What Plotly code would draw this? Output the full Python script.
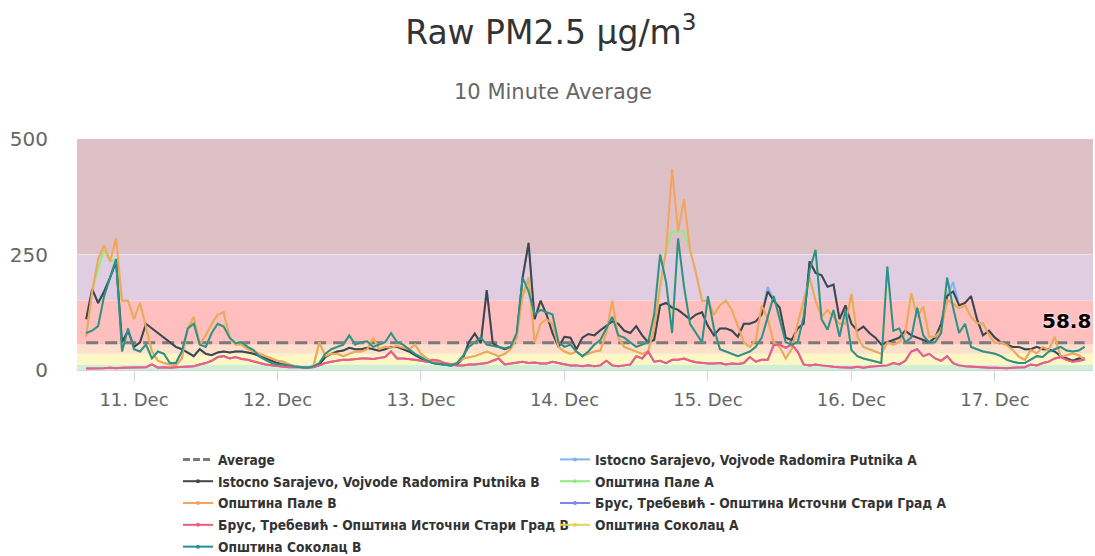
import pandas as pd
import plotly.graph_objects as go

# ---------------- data ----------------
START = "2018-12-10 16:00"          # first sample shown (hourly read-off of the 10-minute averages)
N_POINTS = 168
times = pd.date_range(START, periods=N_POINTS, freq="h")

AVERAGE = 58.8

ISTOCNO_B = [110,175,145,170,200,235,60,85,50,60,100,90,80,70,60,50,45,38,30,45,35,32,38,40,38,40,40,38,35,30,25,20,15,
             12,10,7,6,5,7,12,28,35,40,42,48,45,45,48,45,42,45,50,50,45,40,32,25,20,15,13,12,10,12,25,60,79,58,
             173,58,50,45,50,72,200,275,110,150,120,80,50,72,70,45,70,78,75,86,95,105,100,85,80,95,75,60,65,140,145,135,
             130,120,110,120,125,95,75,90,90,85,72,100,100,105,120,170,150,135,70,65,90,100,235,210,205,180,185,110,140,100,85,94,80,70,55,
             60,65,70,85,75,70,65,60,70,100,160,170,140,145,160,110,75,85,70,60,55,50,50,45,45,50,45,45,40,30,25,20,25,25]

PALE_B = [72,170,240,270,235,285,150,150,110,145,93,40,20,15,12,10,25,90,115,55,75,100,120,125,70,55,55,45,40,35,30,25,20,
          18,12,8,6,5,8,60,30,35,35,30,35,40,40,45,70,45,50,48,52,48,45,55,35,25,18,15,12,12,15,25,28,30,35,
          40,35,30,35,45,70,160,200,60,100,110,100,50,40,35,40,30,35,40,42,80,150,70,50,45,40,35,40,90,180,260,435,
          300,370,260,210,150,150,120,140,150,130,95,60,50,65,140,110,60,50,25,45,100,150,200,150,115,130,115,100,100,165,72,50,45,40,35,
          60,55,60,80,166,115,137,72,72,86,151,144,133,140,115,101,101,76,58,60,54,43,29,22,43,36,50,43,72,29,32,36,32,22]

BRUS_B = [3,3,4,4,5,4,5,5,6,5,6,12,5,6,5,6,7,8,8,12,15,20,28,30,25,28,24,22,18,15,12,10,8,
          7,6,6,5,5,6,10,15,18,20,22,22,24,25,25,24,26,28,40,25,25,24,22,20,18,22,20,15,12,10,10,12,12,14,
          15,20,25,12,14,16,18,15,16,14,14,18,15,12,10,10,8,10,8,10,20,10,8,10,12,30,25,40,18,20,15,22,
          22,25,20,17,15,14,14,15,12,14,13,15,28,18,22,22,54,55,48,55,40,12,10,12,10,8,7,6,5,5,7,5,7,8,10,
          10,15,12,20,40,45,30,35,25,20,30,15,10,8,7,6,6,5,5,4,4,5,6,6,12,10,15,18,25,28,22,18,20,22]

SOKOLAC_B = [80,85,95,160,200,240,40,90,45,40,55,25,40,35,15,15,40,90,100,55,50,80,100,94,70,58,60,50,43,29,22,15,12,
             12,10,7,6,5,8,15,35,45,50,55,75,55,60,62,50,55,60,80,60,55,45,35,28,20,15,14,12,10,15,30,50,60,70,
             55,52,50,47,50,80,200,170,120,130,125,120,60,50,55,40,30,40,55,65,90,115,75,70,60,50,55,60,120,250,190,80,
             285,180,100,80,60,160,90,45,40,35,30,35,40,50,70,115,160,110,60,55,60,115,216,260,110,87,130,72,130,43,30,25,22,18,15,
             224,85,90,60,70,135,75,60,60,80,200,135,80,100,50,45,40,38,35,30,22,18,15,15,22,30,28,40,45,50,42,40,42,50]

ISTOCNO_A = [110,175,145,170,200,235,60,85,50,60,100,90,80,70,60,50,45,38,30,45,35,32,38,40,38,40,40,38,35,30,25,20,15,
             12,10,7,6,5,7,12,28,35,40,42,48,45,45,48,45,42,45,50,50,45,40,32,25,20,15,13,12,10,12,25,60,79,58,
             173,58,50,45,50,72,200,275,110,150,120,80,50,72,70,45,70,78,75,86,95,105,100,85,80,95,75,60,65,140,145,135,
             130,120,110,120,125,95,75,90,90,85,72,100,100,105,120,180,150,135,70,65,90,100,235,210,205,180,185,110,140,100,85,94,80,70,55,
             60,65,70,85,75,70,65,60,70,100,160,190,140,145,160,110,75,85,70,60,55,50,50,45,45,50,45,45,40,30,25,20,25,25]

PALE_A = [72,170,220,260,235,240,150,150,110,145,93,40,20,15,12,10,25,90,115,55,75,100,120,125,70,55,55,45,40,35,30,25,20,
          18,12,8,6,5,8,60,30,35,35,30,35,40,40,45,70,45,50,48,52,48,45,55,35,25,18,15,12,12,15,25,28,30,35,
          40,35,30,35,45,70,160,200,60,100,110,100,50,40,35,40,30,35,40,42,80,150,70,50,45,40,35,40,90,180,260,300,
          300,300,260,210,150,150,120,140,150,130,95,60,50,65,140,110,60,50,25,45,100,150,200,150,115,130,115,100,100,165,72,50,45,40,35,
          60,55,60,80,166,115,137,72,72,86,151,144,133,140,115,101,101,76,58,60,54,43,29,22,43,36,50,43,72,29,32,36,32,22]

BRUS_A = [3,3,4,4,5,4,5,5,6,5,6,12,5,6,5,6,7,8,8,12,15,20,28,30,25,28,24,22,18,15,12,10,8,
          7,6,6,5,5,6,10,15,18,20,22,22,24,25,25,24,26,28,40,25,25,24,22,20,18,22,20,15,12,10,10,12,12,14,
          15,20,25,12,14,16,18,15,16,14,14,18,15,12,10,10,8,10,8,10,20,10,8,10,12,30,25,40,18,20,15,22,
          22,25,20,17,15,14,14,15,12,14,13,15,28,18,22,22,54,55,48,55,40,12,10,12,10,8,7,6,5,5,7,5,7,8,10,
          10,15,12,20,40,45,30,35,25,20,30,15,10,8,7,6,6,5,5,4,4,5,6,6,12,10,15,18,25,28,22,18,20,22]

SOKOLAC_A = [80,85,95,160,200,240,40,90,45,40,55,25,40,35,15,15,40,90,100,55,50,80,100,94,70,58,60,50,43,29,22,15,12,
             12,10,7,6,5,8,15,35,45,50,55,75,55,60,62,50,55,60,80,60,55,45,35,28,20,15,14,12,10,15,30,50,60,70,
             55,52,50,47,50,80,170,170,120,130,125,120,60,50,55,40,30,40,55,65,90,115,75,70,60,50,55,60,120,250,190,80,
             285,180,100,80,60,160,90,45,40,35,30,35,40,50,70,115,160,110,60,55,60,115,216,260,110,87,130,72,130,43,30,25,22,18,15,
             224,85,90,60,70,135,75,60,60,80,200,135,80,100,50,45,40,38,35,30,22,18,15,15,22,30,28,40,45,50,42,40,42,50]

SERIES_B = [
    ("Istocno Sarajevo, Vojvode Radomira Putnika B", ISTOCNO_B, "#434348"),
    ("Општина Пале B", PALE_B, "#f7a35c"),
    ("Брус, Требевић - Општина Источни Стари Град B", BRUS_B, "#f15c80"),
    ("Општина Соколац B", SOKOLAC_B, "#2b908f"),
]
SERIES_A = [
    ("Istocno Sarajevo, Vojvode Radomira Putnika A", ISTOCNO_A, "#7cb5ec"),
    ("Општина Пале A", PALE_A, "#90ed7d"),
    ("Брус, Требевић - Општина Источни Стари Град A", BRUS_A, "#8085e9"),
    ("Општина Соколац A", SOKOLAC_A, "#e4d354"),
]

BAND_EDGES = [0, 12, 35.4, 55.4, 150.4, 250.4, 500]
BAND_COLORS = ["#d3efd3", "#fdf8c3", "#fde0cc", "#ffbfbf", "#e1cde1", "#dec0c7"]

X_RANGE = ["2018-12-10 14:28", "2018-12-17 16:24"]

# ---------------- figure ----------------
fig = go.Figure()

for lo, hi, col in zip(BAND_EDGES[:-1], BAND_EDGES[1:], BAND_COLORS):
    fig.add_shape(type="rect", xref="paper", x0=0, x1=1, yref="y", y0=lo, y1=hi,
                  fillcolor=col, line_width=0, layer="below")

AVG_COLOR = "#7a7a7a"
fig.add_trace(go.Scatter(x=[times[0], times[-1]], y=[AVERAGE, AVERAGE], mode="lines",
                         line=dict(color=AVG_COLOR, width=3, dash="12px,7px"),
                         legendgroup="avg", showlegend=False, hoverinfo="skip"))

for name, vals, col in SERIES_A + SERIES_B:
    fig.add_trace(go.Scatter(x=times, y=vals, mode="lines", name=name,
                             line=dict(color=col, width=2), legendgroup=name,
                             showlegend=False))

# legend entries (two columns)
fig.add_trace(go.Scatter(x=[None], y=[None], mode="lines", name="Average",
                         line=dict(color=AVG_COLOR, width=3, dash="7px,3px"),
                         legendgroup="avg", legend="legend"))
for name, vals, col in SERIES_B:
    fig.add_trace(go.Scatter(x=[None], y=[None], mode="lines+markers", name=name,
                             line=dict(color=col, width=2), marker=dict(size=4, color=col),
                             legendgroup=name, legend="legend"))
for name, vals, col in SERIES_A:
    fig.add_trace(go.Scatter(x=[None], y=[None], mode="lines+markers", name=name,
                             line=dict(color=col, width=2), marker=dict(size=4, color=col),
                             legendgroup=name, legend="legend2"))

L, R, T, B = 77, 2, 139, 186
W, H = 1095, 556
pw, ph = W - L - R, H - T - B

def px_x(px):
    return (px - L) / pw

def px_y(py):
    return (H - B - py) / ph

LEG_FONT = dict(family="DejaVu Sans Condensed, Liberation Sans Narrow, DejaVu Sans, sans-serif",
                size=13.7, color="#333333", weight="bold")

fig.update_layout(
    width=W, height=H,
    margin=dict(l=L, r=R, t=T, b=B, autoexpand=False),
    paper_bgcolor="white", plot_bgcolor="white",
    font=dict(family="DejaVu Sans, sans-serif", color="#666666"),
    title=dict(text="Raw PM2.5 μg/m<sup>3</sup>", x=0.503, xref="container", xanchor="center",
               y=1 - 32 / H, yref="container", yanchor="middle",
               font=dict(size=33, color="#333333")),
    showlegend=True,
    legend=dict(x=px_x(178), y=px_y(444), xanchor="left", yanchor="top",
                orientation="v", font=LEG_FONT, tracegroupgap=1,
                bgcolor="rgba(0,0,0,0)", traceorder="grouped"),
    legend2=dict(x=px_x(555), y=px_y(444), xanchor="left", yanchor="top",
                 orientation="v", font=LEG_FONT, tracegroupgap=1,
                 bgcolor="rgba(0,0,0,0)", traceorder="grouped"),
    hovermode=False,
)

fig.update_xaxes(type="date", range=X_RANGE, tickformat="%d. %b", dtick=86400000,
                 tick0="2018-12-11", ticks="outside", ticklen=10, tickcolor="#ccd6eb",
                 showline=True, linecolor="#ccd6eb", linewidth=1, showgrid=False,
                 zeroline=False, tickfont=dict(size=18, color="#666666"),
                 ticklabelstandoff=3)
fig.update_yaxes(range=[0, 500], tickvals=[0, 250, 500], showgrid=True, gridcolor="#e6e6e6",
                 zeroline=False, showline=False, ticks="", tickfont=dict(size=20, color="#666666"),
                 ticklabelstandoff=28)

fig.add_annotation(text="10 Minute Average", xref="paper", yref="paper",
                   x=px_x(553), y=px_y(92), xanchor="center", yanchor="middle",
                   showarrow=False, font=dict(size=21, color="#666666"))
fig.add_annotation(text="<b>58.8</b>", xref="paper", yref="y", x=1.0, y=AVERAGE,
                   xanchor="right", yanchor="bottom", yshift=8, showarrow=False,
                   font=dict(size=20, color="#000000", shadow="0px 0px 3px white"))

fig.write_html("out.html", post_script="document.body.style.margin='0';",
               config={"displayModeBar": False})
